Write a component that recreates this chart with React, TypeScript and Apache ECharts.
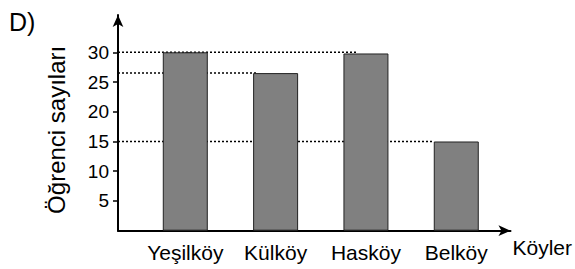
import React, { useEffect, useRef } from "react";
import * as echarts from "echarts";

const categories = ["Yeşilköy", "Külköy", "Hasköy", "Belköy"];
const values = [30, 26.5, 29.8, 15];
const yTicks = [5, 10, 15, 20, 25, 30];
const guideValues = [30, 26.5, 15];
const guideEnds = [1.9, 0.8, 2.75];
const yName = "Öğrenci sayıları";
const xName = "Köyler";
const title = "D)";

const FONT = "'Liberation Sans', Arial, sans-serif";
const X_MIN = -0.745;
const X_MAX = 3.6;
const Y_MAX = 36.27;

export default function App() {
  const ref = useRef<HTMLDivElement>(null);
  useEffect(() => {
    if (!ref.current) return;
    const chart = echarts.init(ref.current, undefined, { renderer: "svg" });
    const guideSeries = guideValues.map((v, i) => ({
      type: "line",
      xAxisIndex: 0,
      yAxisIndex: 0,
      z: 1,
      symbol: "none",
      silent: true,
      lineStyle: { color: "#000", width: 1.5, type: [2, 2] },
      data: [
        [X_MIN, v],
        [guideEnds[i], v],
      ],
    }));
    chart.setOption({
      animation: false,
      backgroundColor: "#fff",
      textStyle: { fontFamily: FONT },
      grid: { left: 118, top: 15, right: 64, bottom: 38.3 },
      graphic: [
        {
          type: "text",
          left: 9,
          top: 9,
          style: { text: title, fontSize: 25, fontFamily: FONT, fill: "#000" },
        },
      ],
      xAxis: [
        {
          type: "value",
          min: X_MIN,
          max: X_MAX,
          splitLine: { show: false },
          axisTick: { show: false },
          axisLine: {
            show: true,
            onZero: false,
            symbol: ["none", "arrow"],
            symbolSize: [8, 12],
            lineStyle: { color: "#000", width: 2 },
          },
          axisLabel: {
            customValues: [0, 1, 2, 3],
            formatter: (v: number) => categories[Math.round(v)] ?? "",
            fontSize: 21,
            color: "#000",
            fontFamily: FONT,
            margin: 11,
          },
          name: xName,
          nameLocation: "end",
          nameGap: 2,
          nameTextStyle: {
            fontSize: 21,
            color: "#000",
            fontFamily: FONT,
            align: "left",
            verticalAlign: "top",
            padding: [6, 0, 0, 0],
          },
        },
      ],
      yAxis: [
        {
          type: "value",
          min: 0,
          max: Y_MAX,
          splitLine: { show: false },
          axisLine: {
            show: true,
            onZero: false,
            symbol: ["none", "arrow"],
            symbolSize: [8, 12],
            lineStyle: { color: "#000", width: 2 },
          },
          axisTick: {
            show: true,
            customValues: yTicks,
            length: 5,
            lineStyle: { color: "#000", width: 1.5 },
          },
          axisLabel: {
            customValues: yTicks,
            fontSize: 19,
            color: "#000",
            fontFamily: FONT,
            margin: 9,
          },
          name: yName,
          nameLocation: "middle",
          nameGap: 50,
          nameRotate: 90,
          nameTextStyle: {
            fontSize: 24,
            color: "#000",
            fontFamily: FONT,
            padding: [0, 14, 0, 0],
          },
        },
        {
          type: "value",
          min: 0,
          max: Y_MAX,
          position: "left",
          splitLine: { show: false },
          axisLine: { show: false },
          axisLabel: { show: false },
          axisTick: {
            show: true,
            inside: true,
            customValues: yTicks,
            length: 5,
            lineStyle: { color: "#000", width: 1.5 },
          },
        },
      ],
      series: [
        ...guideSeries,
        {
          type: "bar",
          xAxisIndex: 0,
          yAxisIndex: 0,
          z: 2,
          barWidth: 45,
          data: values.map((v, i) => [i, v]),
          itemStyle: { color: "#808080", borderColor: "#222", borderWidth: 1 },
        },
      ],
    });
    return () => chart.dispose();
  }, []);
  return (
    <div
      ref={ref}
      style={{ position: "fixed", left: 0, top: 0, width: 575, height: 269 }}
    />
  );
}
